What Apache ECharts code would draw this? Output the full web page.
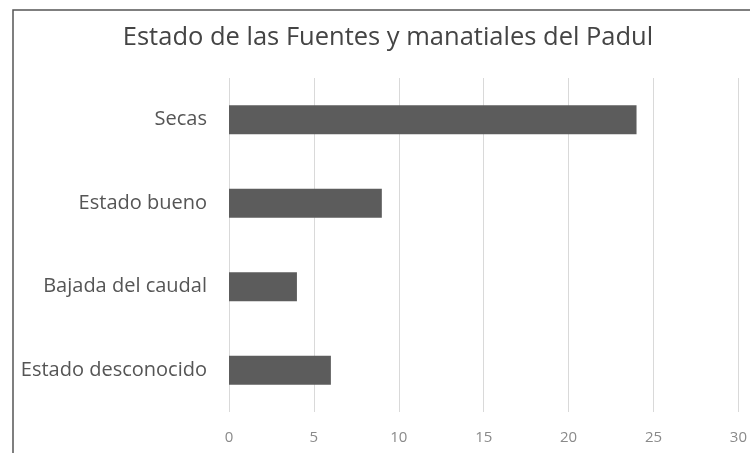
<!DOCTYPE html>
<html>
<head>
<meta charset="utf-8">
<script src="https://cdn.jsdelivr.net/npm/echarts@6/dist/echarts.min.js"></script>
<style>
html,body{margin:0;padding:0;background:#fff;}
#chart{width:750px;height:453px;}
</style>
</head>
<body>
<div id="chart"></div>
<script>
var titleText = 'Estado de las Fuentes y manatiales del Padul';
var categories = ['Secas', 'Estado bueno', 'Bajada del caudal', 'Estado desconocido'];
var values = [24, 9, 4, 6];
var xTicks = [0, 5, 10, 15, 20, 25, 30];

var chart = echarts.init(document.getElementById('chart'));
chart.setOption({
  backgroundColor: '#fff',
  animation: false,
  title: {
    text: titleText,
    left: 383,
    textAlign: 'center',
    top: 20,
    textStyle: {fontFamily: 'Open Sans', fontSize: 25.5, fontWeight: 'normal', color: '#444'}
  },
  graphic: [{
    type: 'rect',
    shape: {x: 13, y: 10, width: 800, height: 500},
    style: {fill: 'none', stroke: '#555', lineWidth: 1.5},
    silent: true
  }],
  grid: {left: 229, right: 8, top: 78, bottom: 41, containLabel: false},
  xAxis: {
    type: 'value',
    min: xTicks[0],
    max: xTicks[xTicks.length - 1],
    interval: 5,
    axisLine: {show: false},
    axisTick: {show: false},
    splitLine: {show: true, lineStyle: {color: '#d9d9d9', width: 1}},
    axisLabel: {margin: 18, color: '#8a8a8a', fontFamily: 'Open Sans', fontSize: 15}
  },
  yAxis: {
    type: 'category',
    inverse: true,
    data: categories,
    axisLine: {show: false},
    axisTick: {show: false},
    axisLabel: {margin: 22, color: '#555', fontFamily: 'Open Sans', fontSize: 20}
  },
  series: [{
    type: 'bar',
    data: values,
    barWidth: 29,
    itemStyle: {color: '#5c5c5c'}
  }]
});
</script>
</body>
</html>
